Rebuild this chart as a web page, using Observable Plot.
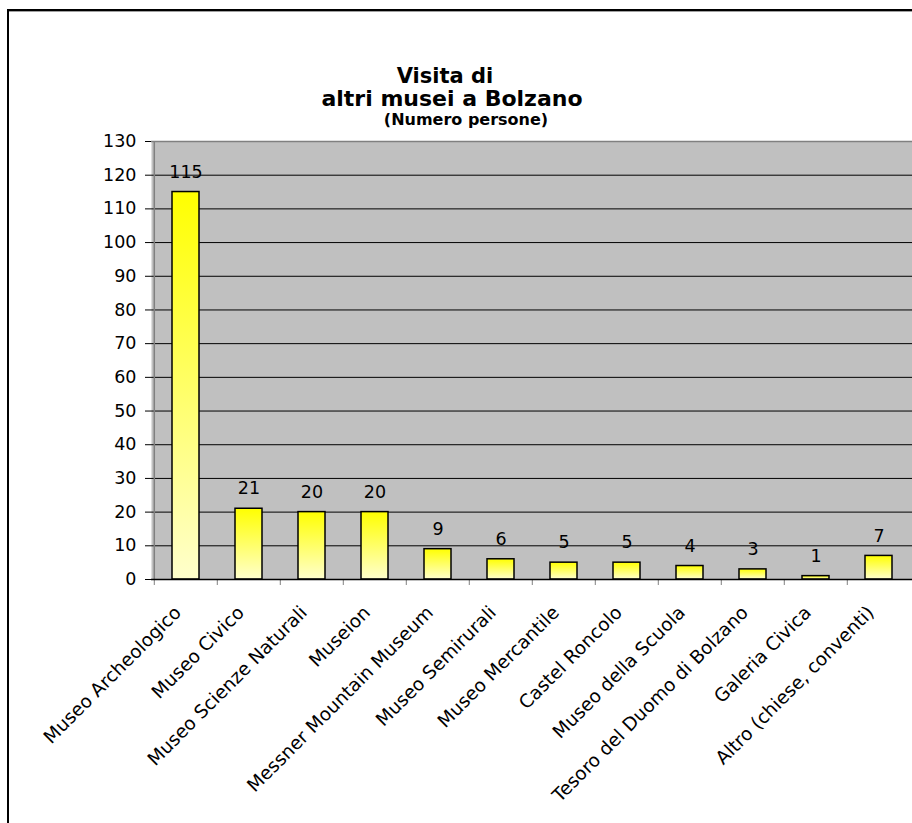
<!DOCTYPE html>
<html>
<head>
<meta charset="utf-8">
<script src="https://cdn.jsdelivr.net/npm/d3@7"></script>
<script src="https://cdn.jsdelivr.net/npm/@observablehq/plot@0.6"></script>
<style>
  body { margin: 0; background: #fff; }
  #wrap { position: relative; width: 912px; height: 823px; overflow: hidden; font-family: "DejaVu Sans", Verdana, sans-serif; background: #fff; }
  #frame { position: absolute; left: 7px; top: 9px; width: 1000px; height: 1000px; border-top: 2px solid #000; border-left: 2px solid #000; }
  #frame2 { position: absolute; left: 9px; top: 11px; width: 1000px; height: 1px; background: #a0a0a0; }
  .t { position: absolute; width: 600px; text-align: center; font-weight: bold; color: #000; white-space: nowrap; }
  #chart { position: absolute; left: 0; top: 0; }
</style>
</head>
<body>
<div id="wrap">
  <div id="frame"></div>
  <div id="frame2"></div>
  <div id="chart"></div>
  <div class="t" style="left:145px;top:64px;font-size:21px;">Visita di</div>
  <div class="t" style="left:152px;top:86px;font-size:22px;">altri musei a Bolzano</div>
  <div class="t" style="left:166px;top:110px;font-size:16px;">(Numero persone)</div>
</div>
<script>
const categories = [
  "Museo Archeologico",
  "Museo Civico",
  "Museo Scienze Naturali",
  "Museion",
  "Messner Mountain Museum",
  "Museo Semirurali",
  "Museo Mercantile",
  "Castel Roncolo",
  "Museo della Scuola",
  "Tesoro del Duomo di Bolzano",
  "Galeria Civica",
  "Altro (chiese, conventi)"
];
const values = [115, 21, 20, 20, 9, 6, 5, 5, 4, 3, 1, 7];
const yTicks = [0, 10, 20, 30, 40, 50, 60, 70, 80, 90, 100, 110, 120, 130];

const data = categories.map((c, i) => ({category: c, value: values[i]}));

const W = 912, H = 823;
const mLeft = 151, mRight = 0, mTop = 141, mBottom = 244;
const step = (W - mLeft - mRight) / categories.length;

const chart = Plot.plot({
  width: W,
  height: H,
  marginLeft: mLeft,
  marginRight: mRight,
  marginTop: mTop,
  marginBottom: mBottom,
  style: {background: "transparent", fontFamily: "'DejaVu Sans', Verdana, sans-serif", color: "#000", overflow: "visible"},
  x: {type: "band", domain: categories, paddingInner: 0.575, paddingOuter: 0.2875, axis: null},
  y: {domain: [0, 130], axis: null},
  marks: [
    Plot.frame({fill: "#c0c0c0", stroke: null}),
    Plot.gridY(yTicks.filter(v => v > 0 && v < 130), {stroke: "#000", strokeOpacity: 1}),
    Plot.ruleY([130], {stroke: "#808080", strokeWidth: 1.5}),
    Plot.ruleX([categories[0]], {dx: -step / 2, y1: 0, y2: 130, stroke: "#808080", strokeWidth: 1.5}),
    Plot.axisY({ticks: yTicks, tickSize: 6, tickPadding: 9, fontSize: 17.5, stroke: "#000", label: null, tickFormat: d => String(d)}),
    Plot.axisX({ticks: categories, tickSize: 6, dx: -step / 2, tickFormat: () => "", stroke: "#808080", label: null}),
    Plot.barY(data, {x: "category", y: "value", fill: "url(#barGrad)", stroke: "#000", strokeWidth: 1.5}),
    Plot.ruleY([0], {stroke: "#000", strokeWidth: 1.5}),
    Plot.text(data, {x: "category", y: "value", text: d => String(d.value), dy: -20, fontSize: 17.5, lineAnchor: "middle", fill: "#000"}),
    Plot.text(categories, {x: d => d, frameAnchor: "bottom", dx: -8, dy: 30, rotate: -45, textAnchor: "end", lineAnchor: "middle", fontSize: 18.5, fill: "#000"})
  ]
});

const ns = "http://www.w3.org/2000/svg";
const defs = document.createElementNS(ns, "defs");
defs.innerHTML = '<linearGradient id="barGrad" x1="0" y1="0" x2="0" y2="1">' +
  '<stop offset="0" stop-color="#ffff00"/><stop offset="1" stop-color="#ffffcc"/></linearGradient>';
chart.insertBefore(defs, chart.firstChild);
document.getElementById("chart").appendChild(chart);
</script>
</body>
</html>
